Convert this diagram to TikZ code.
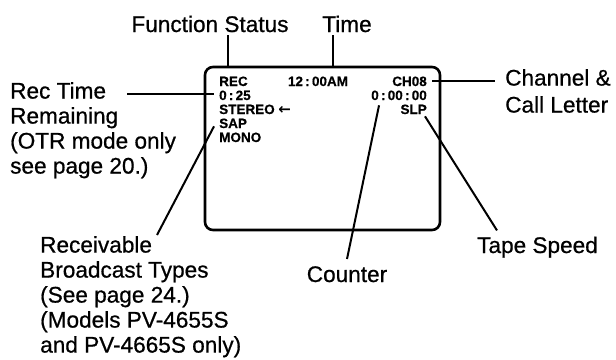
\documentclass[tikz,border=0pt]{standalone}
\usepackage{fontspec}
\setmainfont{Liberation Sans}
\newfontfamily\arrowfont{DejaVu Sans}
\usepackage{tikz}
\usetikzlibrary{calc}
\definecolor{inkclr}{RGB}{0,0,0}

\begin{document}
\begin{tikzpicture}[x=1pt, y=-1pt, inkclr,
  lbl/.style={inner sep=0pt, font=\fontsize{22.6}{25}\selectfont\addfontfeature{FakeBold=0.7}, align=left},
  scr/.style={inner sep=0pt, font=\fontsize{13.5}{14}\selectfont\bfseries\addfontfeature{FakeBold=0.6}},
  lead/.style={line width=2pt}]
  \useasboundingbox (0,0) rectangle (616,359);
  % screen
  \node[draw, line width=2.6pt, rounded corners=8pt, minimum width=235pt,
    minimum height=163pt, inner sep=0pt] (screen) at (322.5,148.5) {};
  % screen texts
  \node[scr, anchor=base west] (rec)    at (219,86)  {REC};
  \node[scr, anchor=base]      (clock)  at (318,86)  {12\,:\,00AM};
  \node[scr, anchor=base east] (ch)     at (427,86)  {CH08};
  \node[scr, anchor=base west] (otr)    at (219,100) {0\,:\,25};
  \node[scr, anchor=base east] (cnt)    at (427,100) {0\,:\,00\,:\,00};
  \node[scr, anchor=base west] (stereo) at (219,114) {STEREO {\arrowfont\bfseries\fontsize{15}{14}\selectfont ←}};
  \node[scr, anchor=base east] (slp)    at (427,114) {SLP};
  \node[scr, anchor=base west] (sap)    at (219,128) {SAP};
  \node[scr, anchor=base west] (mono)   at (219,142) {MONO};
  % labels
  \node[lbl, anchor=base] (fs) at (210,32) {Function Status};
  \node[lbl, anchor=base] (tm) at (347,32) {Time};
  \node[lbl, anchor=north west] (rt) at (10,82)
    {Rec Time\\Remaining\\(OTR mode only\\see page 20.)};
  \node[lbl, anchor=north west, font=\fontsize{22.6}{27}\selectfont\addfontfeature{FakeBold=0.7}] (cl) at (505,69)
    {Channel \&\\Call Letter};
  \node[lbl, anchor=north west] (rb) at (40,236)
    {Receivable\\Broadcast Types\\(See page 24.)\\(Models PV-4655S\\and PV-4665S only)};
  \node[lbl, anchor=base] (ctr) at (347,282) {Counter};
  \node[lbl, anchor=base west] (ts) at (477,253) {Tape Speed};
  % leaders
  \coordinate (rtx) at (127,94);
  \coordinate (rbtip) at (157,235);
  \draw[lead] ([xshift=18pt, yshift=-3pt]fs.south) -- ($(fs.south |- screen.north)+(18,0)$);
  \draw[lead] ([xshift=-14pt, yshift=-3pt]tm.south) -- ($(tm.south |- screen.north)+(-14,0)$);
  \draw[lead] (rtx) -- ($(rtx -| otr.west)+(-5,0)$);
  \draw[lead] ([xshift=5pt]ch.east) -- ($(ch.east -| cl.west)+(-10,0)$);
  \draw[lead] (rbtip) -- ([xshift=-5pt, yshift=-3pt]sap.west);
  \draw[lead] ([yshift=7pt]ctr.north) -- ([xshift=-20pt, yshift=-5pt]cnt.south);
  \draw[lead] ([xshift=20pt, yshift=6pt]ts.north west) -- ([xshift=-2pt, yshift=-2pt]slp.south east);
\end{tikzpicture}
\end{document}
